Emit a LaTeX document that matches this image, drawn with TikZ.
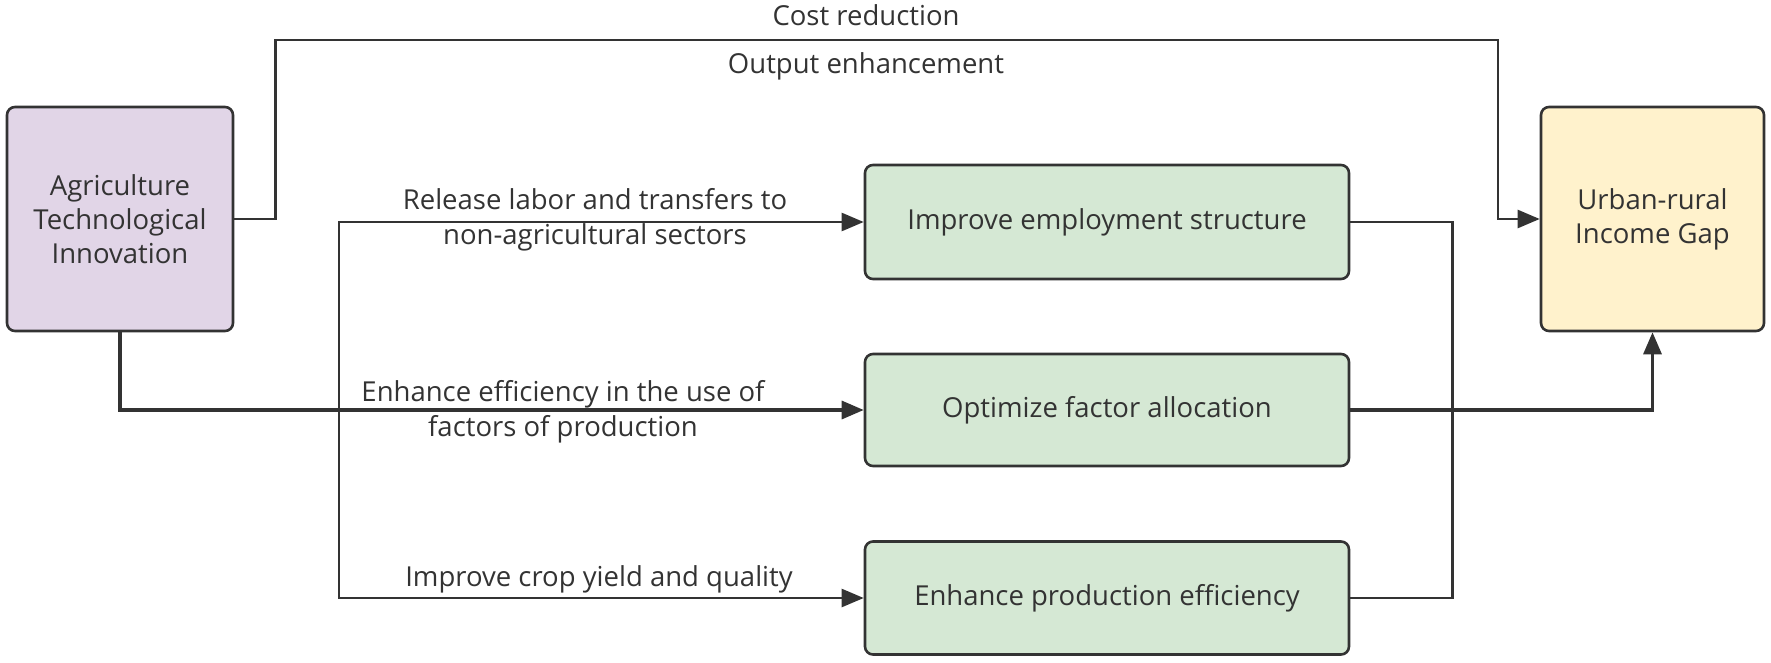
\documentclass[tikz,border=0pt]{standalone}
\usepackage{fontspec}
\setmainfont{Open Sans}
\usetikzlibrary{arrows.meta}
\definecolor{ln}{HTML}{333333}
\definecolor{purp}{HTML}{E1D5E7}
\definecolor{grn}{HTML}{D5E8D4}
\definecolor{yel}{HTML}{FFF2CC}
\tikzset{
  box/.style={draw=ln, line width=2.6pt, rounded corners=8pt, align=center, font=\fontsize{27.5}{34}\selectfont, text=ln, inner sep=0pt},
  conn/.style={draw=ln, line width=2.4pt},
  thickconn/.style={draw=ln, line width=3.2pt},
  arr/.style={-{Triangle[length=22pt,width=18pt]}},
  lbl/.style={font=\fontsize{27.5}{35}\selectfont, text=ln, align=center, inner sep=0pt}
}
\begin{document}
\begin{tikzpicture}[x=1pt,y=-1pt]
\useasboundingbox (0,0) rectangle (1771,663);
\node[box, fill=purp, minimum width=226pt, minimum height=224pt] (atin) at (120,219) {Agriculture\\Technological\\Innovation};
\node[box, fill=yel, minimum width=223pt, minimum height=224pt] (gap) at (1652.5,219) {Urban-rural\\Income Gap};
\node[box, fill=grn, minimum width=484pt, minimum height=114pt] (b1) at (1107,222) {Improve employment structure};
\node[box, fill=grn, minimum width=484pt, minimum height=112pt] (b2) at (1107,410) {Optimize factor allocation};
\node[box, fill=grn, minimum width=484pt, minimum height=113pt] (b3) at (1107,598) {Enhance production efficiency};
\coordinate (j) at (339,410);
% top path
\draw[conn, arr] (atin.east) -- ++(41,0) |- (1498,40) |- (gap.west);
% main path
\draw[thickconn, arr] (atin.south) |- (b2.west);
\draw[conn, arr] (j) |- (b1.west);
\draw[conn, arr] (j) |- (b3.west);
% right side
\draw[conn] (b1.east) -- ++(102,0) |- (b3.east);
\draw[thickconn, arr] (b2.east) -| (gap.south);
% labels
\node[lbl] (l1) at (866,15) {Cost reduction};
\node[lbl] (l2) at (866,66) {Output enhancement};
\node[lbl] (l3) at (595,220) {Release labor and transfers to\\non-agricultural sectors};
\node[lbl] (l4) at (563,412) {Enhance efficiency in the use of\\factors of production};
\node[lbl] (l5) at (599,579) {Improve crop yield and quality};
\end{tikzpicture}
\end{document}
